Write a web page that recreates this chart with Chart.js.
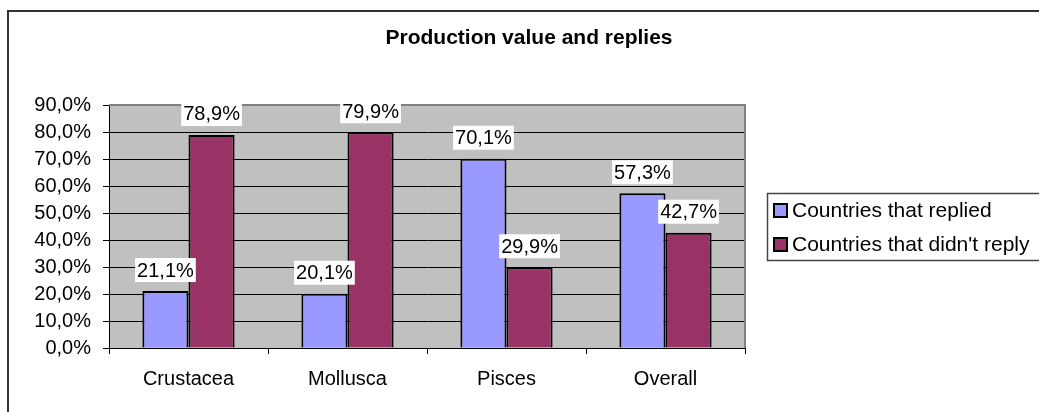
<!DOCTYPE html>
<html>
<head>
<meta charset="utf-8">
<script src="https://cdn.jsdelivr.net/npm/chart.js@4/dist/chart.umd.min.js"></script>
<style>
  body { margin: 0; background: #fff; }
  #wrap { width: 1039px; height: 412px; position: relative; }
</style>
</head>
<body>
<div id="wrap"><canvas id="myChart" width="1039" height="412"></canvas></div>
<script>
const categories = ['Crustacea', 'Mollusca', 'Pisces', 'Overall'];
const replied = [21.1, 20.1, 70.1, 57.3];
const notReplied = [78.9, 79.9, 29.9, 42.7];
const seriesNames = ['Countries that replied', "Countries that didn't reply"];
const seriesColors = ['#9999FF', '#993366'];

const FONT = 'Arial, "Liberation Sans", sans-serif';

function fmt(v) {
  return v.toFixed(1).replace('.', ',') + '%';
}

// grey plot area, frame, title, legend
const excelLook = {
  id: 'excelLook',
  beforeDraw(chart) {
    const c = chart.ctx, a = chart.chartArea;
    c.save();
    c.fillStyle = '#fff';
    c.fillRect(0, 0, chart.width, chart.height);
    c.fillStyle = '#C0C0C0';
    c.fillRect(a.left, a.top, a.right - a.left, a.bottom - a.top);
    c.restore();
  },
  beforeDatasetsDraw(chart) {
    const c = chart.ctx, a = chart.chartArea;
    c.save();
    // plot border top/right
    c.strokeStyle = '#808080';
    c.lineWidth = 2;
    c.beginPath();
    c.moveTo(a.left, a.top);
    c.lineTo(a.right, a.top);
    c.lineTo(a.right, a.bottom);
    c.stroke();
    c.restore();
  },
  afterDraw(chart) {
    const c = chart.ctx;
    c.save();
    // outer frame
    c.strokeStyle = '#333';
    c.lineWidth = 2;
    c.strokeRect(8, 11, 1040, 420);
    // title
    c.fillStyle = '#000';
    c.font = 'bold 21px ' + FONT;
    c.textAlign = 'center';
    c.textBaseline = 'middle';
    c.fillText('Production value and replies', 529, 38);
    // legend
    c.strokeStyle = '#444';
    c.lineWidth = 1.5;
    c.strokeRect(767.5, 193.5, 290, 67);
    c.font = '21px ' + FONT;
    c.textAlign = 'left';
    seriesNames.forEach((name, i) => {
      const y = 210 + i * 34;
      c.fillStyle = seriesColors[i];
      c.fillRect(774, y - 6, 13, 13);
      c.strokeStyle = '#000';
      c.lineWidth = 2;
      c.strokeRect(774, y - 6, 13, 13);
      c.fillStyle = '#000';
      c.fillText(name, 792, y + 1);
    });
    c.restore();
  },
  afterDatasetsDraw(chart) {
    const c = chart.ctx;
    c.save();
    c.font = '20px ' + FONT;
    c.textAlign = 'center';
    c.textBaseline = 'middle';
    chart.data.datasets.forEach((ds, di) => {
      chart.getDatasetMeta(di).data.forEach((bar, i) => {
        const txt = fmt(ds.data[i]);
        const w = c.measureText(txt).width + 4;
        const cy = bar.y - 21;
        c.fillStyle = '#fff';
        c.fillRect(bar.x - w / 2, cy - 12, w, 24);
        c.fillStyle = '#000';
        c.fillText(txt, bar.x, cy + 1);
      });
    });
    c.restore();
  }
};

const ctx = document.getElementById('myChart').getContext('2d');
const myChart = new Chart(ctx, {
  type: 'bar',
  data: {
    labels: categories,
    datasets: [
      { label: seriesNames[0], data: replied, backgroundColor: seriesColors[0], borderColor: '#000', borderWidth: 2, categoryPercentage: 0.58, barPercentage: 1 },
      { label: seriesNames[1], data: notReplied, backgroundColor: seriesColors[1], borderColor: '#000', borderWidth: 2, categoryPercentage: 0.58, barPercentage: 1 }
    ]
  },
  options: {
    responsive: false,
    animation: false,
    layout: { padding: { left: 0, top: 105, right: 294, bottom: 0 } },
    plugins: {
      legend: { display: false },
      title: { display: false },
      tooltip: { enabled: false }
    },
    scales: {
      x: {
        afterFit(s) { s.height = 64; },
        grid: { offset: true, drawOnChartArea: false, color: '#000', tickLength: 6, lineWidth: 1 },
        border: { color: '#000', width: 1 },
        ticks: { color: '#000', font: { family: FONT, size: 20 }, padding: 13 }
      },
      y: {
        min: 0,
        max: 90,
        afterFit(s) { s.width = 109; },
        grid: { color: '#000', tickLength: 6, lineWidth: 1 },
        border: { color: '#000', width: 1 },
        ticks: { stepSize: 10, color: '#000', font: { family: FONT, size: 20 }, padding: 12, callback: v => fmt(v) }
      }
    }
  },
  plugins: [excelLook]
});
</script>
</body>
</html>
